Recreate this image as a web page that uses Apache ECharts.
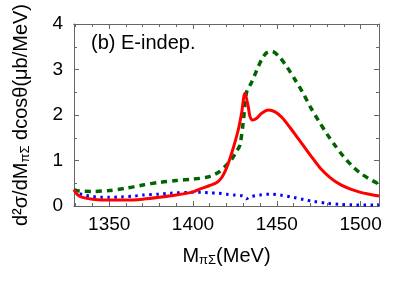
<!DOCTYPE html>
<html>
<head>
<meta charset="utf-8">
<script src="https://cdn.jsdelivr.net/npm/echarts@6/dist/echarts.min.js"></script>
<style>html,body{margin:0;padding:0;background:#fff;}#c{width:415px;height:291px;}</style>
</head>
<body>
<div id="c"></div>
<script>
// ---- data ----
const panelLabel = "(b) E-indep.";
const xMajorTicks = [1350, 1400, 1450, 1500];
const xMinorTicks = [1330, 1340, 1350, 1360, 1370, 1380, 1390, 1400, 1410, 1420, 1430, 1440, 1450, 1460, 1470, 1480, 1490, 1500, 1510];
const yTicks = [0, 1, 2, 3, 4];

const redX = [1329, 1331, 1334, 1340, 1350, 1360, 1370, 1380, 1390, 1400, 1404, 1410, 1414, 1417, 1419, 1421, 1424, 1427, 1429, 1431, 1433, 1434, 1435.5, 1438, 1441, 1445, 1449, 1453, 1458, 1462, 1466, 1470, 1476, 1482, 1488, 1494, 1500, 1505, 1511];
const redY = [0.36, 0.25, 0.19, 0.15, 0.13, 0.13, 0.15, 0.19, 0.24, 0.31, 0.37, 0.45, 0.51, 0.62, 0.75, 0.93, 1.27, 1.67, 2.04, 2.48, 2.18, 1.97, 1.89, 1.93, 2.04, 2.11, 2.07, 1.95, 1.72, 1.52, 1.32, 1.12, 0.83, 0.62, 0.47, 0.37, 0.30, 0.26, 0.22];

const greenX = [1329, 1332, 1340, 1350, 1360, 1370, 1380, 1390, 1400, 1408, 1412, 1416, 1420, 1423, 1426, 1428, 1430, 1432, 1435, 1438, 1441, 1444, 1447, 1451, 1456, 1461, 1466, 1470, 1475, 1480, 1485, 1490, 1495, 1500, 1505, 1511];
const greenY = [0.36, 0.33, 0.32, 0.34, 0.39, 0.46, 0.52, 0.56, 0.59, 0.63, 0.68, 0.76, 0.9, 1.02, 1.2, 1.34, 1.85, 2.5, 2.72, 2.98, 3.22, 3.37, 3.4, 3.3, 3.06, 2.77, 2.46, 2.18, 1.87, 1.58, 1.32, 1.08, 0.88, 0.72, 0.6, 0.48];

const blueX = [1329, 1332, 1335, 1340, 1345, 1350, 1357, 1365, 1370, 1380, 1386, 1398, 1405, 1410, 1415, 1420, 1425, 1430, 1432, 1434, 1440, 1446, 1452, 1460, 1466, 1472, 1480, 1488, 1495, 1511];
const blueY = [0.36, 0.28, 0.24, 0.21, 0.19, 0.19, 0.2, 0.22, 0.24, 0.26, 0.28, 0.3, 0.3, 0.29, 0.28, 0.26, 0.24, 0.22, 0.16, 0.2, 0.24, 0.26, 0.24, 0.19, 0.14, 0.1, 0.06, 0.035, 0.025, 0.02];

// ---- chart ----
const zip = (xs, ys) => xs.map((x, i) => [x, ys[i]]);
const frame = '#666';
const FONT = 'Liberation Sans';
const xMin = 1329, xMax = 1511;

function xAx(pos, ticks, len, opts) {
  return Object.assign({
    type: 'value', position: pos, min: xMin, max: xMax, gridIndex: 0,
    axisLine: { show: true, onZero: false, lineStyle: { color: frame, width: 1 } },
    axisTick: { show: true, inside: true, length: len, customValues: ticks, lineStyle: { color: frame } },
    axisLabel: { show: false },
    splitLine: { show: false }
  }, opts || {});
}

const option = {
  animation: false,
  grid: { left: 74, right: 36, top: 24, bottom: 85 },
  textStyle: { fontFamily: FONT },
  graphic: [{
    type: 'text', left: 91, top: 33,
    style: { text: panelLabel, font: '20px "Liberation Sans"', fill: '#000' }
  }],
  xAxis: [
    xAx('bottom', xMajorTicks, 5, {
      axisLabel: { show: true, customValues: xMajorTicks, fontSize: 19, color: '#000', margin: 9, fontFamily: FONT,
        formatter: v => String(v) },
      name: 'M{sub|πΣ}(MeV)', nameLocation: 'middle', nameGap: 39,
      nameTextStyle: {
        fontSize: 20, color: '#000', fontFamily: FONT,
        rich: { sub: { fontSize: 13, fontFamily: FONT, color: '#000', verticalAlign: 'bottom', padding: [9, 0, 0, 0] } }
      }
    }),
    xAx('bottom', xMinorTicks, 3),
    xAx('top', xMajorTicks, 5),
    xAx('top', xMinorTicks, 3)
  ],
  yAxis: [
    {
      type: 'value', position: 'left', min: 0, max: 4, interval: 1,
      axisLine: { show: true, lineStyle: { color: frame } },
      axisTick: { show: true, inside: true, length: 5, lineStyle: { color: frame } },
      minorTick: { show: true, splitNumber: 2, length: 3, lineStyle: { color: frame } },
      axisLabel: { show: true, fontSize: 19, color: '#000', margin: 11, fontFamily: FONT,
        customValues: yTicks, formatter: v => String(v) },
      splitLine: { show: false }, minorSplitLine: { show: false },
      name: 'd²σ/dM{sub|πΣ} dcosθ(μb/MeV)', nameLocation: 'middle', nameGap: 42, nameRotate: 90,
      nameTextStyle: {
        fontSize: 20, color: '#000', fontFamily: FONT,
        rich: { sub: { fontSize: 13, fontFamily: FONT, color: '#000', verticalAlign: 'bottom', padding: [9, 0, 0, 0] } }
      }
    },
    {
      type: 'value', position: 'right', min: 0, max: 4, interval: 1,
      axisLine: { show: true, lineStyle: { color: frame } },
      axisTick: { show: true, inside: true, length: 5, lineStyle: { color: frame } },
      minorTick: { show: true, splitNumber: 2, length: 3, lineStyle: { color: frame } },
      axisLabel: { show: false },
      splitLine: { show: false }
    }
  ],
  series: [
    {
      type: 'line', xAxisIndex: 0, yAxisIndex: 0, data: zip(blueX, blueY),
      showSymbol: false, smooth: 0.3, z: 3,
      lineStyle: { color: '#0000ff', width: 3, type: [2.5, 4.5], cap: 'butt' }
    },
    {
      type: 'line', xAxisIndex: 0, yAxisIndex: 0, data: zip(greenX, greenY),
      showSymbol: false, smooth: 0.3, z: 4,
      lineStyle: { color: '#006400', width: 3.5, type: [6, 5], cap: 'butt' }
    },
    {
      type: 'line', xAxisIndex: 0, yAxisIndex: 0, data: zip(redX, redY),
      showSymbol: false, smooth: 0.3, z: 5,
      lineStyle: { color: '#ff0000', width: 3 }
    }
  ]
};
const chart = echarts.init(document.getElementById('c'), null, { renderer: 'canvas' });
chart.setOption(option);
</script>
</body>
</html>
